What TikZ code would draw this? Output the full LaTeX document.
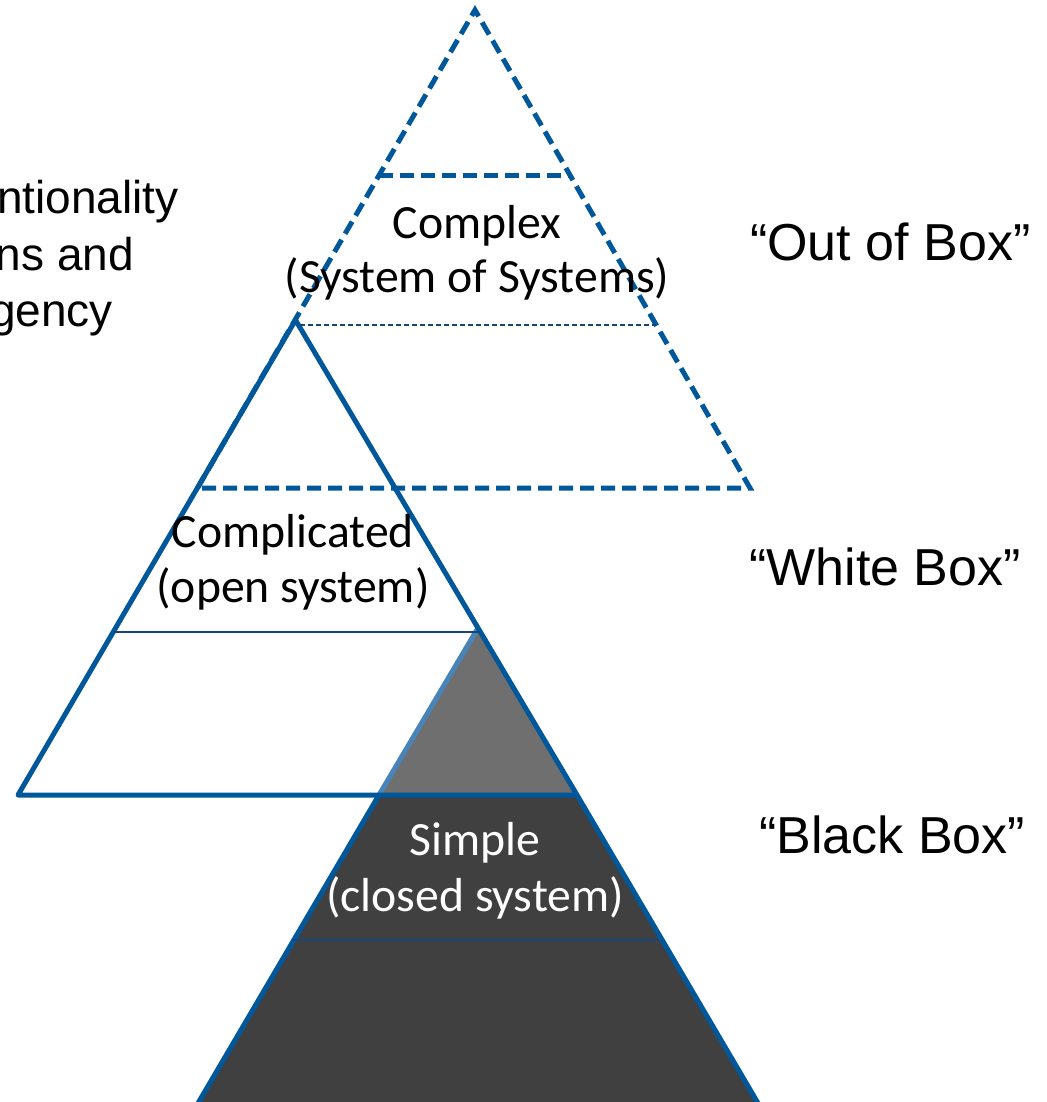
\documentclass[tikz,border=0pt]{standalone}
\usepackage{fontspec}
\setmainfont{Carlito}
\newfontfamily\arialf{Liberation Sans}
\definecolor{pblue}{RGB}{0,88,155}
\definecolor{dblue}{RGB}{20,70,120}
\definecolor{lblue}{RGB}{72,132,184}
\definecolor{gtop}{RGB}{111,111,111}
\definecolor{gbot}{RGB}{64,64,64}
\tikzset{
  thickdash/.style={draw=pblue, line width=5pt, dash pattern=on 14pt off 7pt},
  thindash/.style={draw=dblue, line width=1.8pt, dash pattern=on 5pt off 3pt},
  solidedge/.style={draw=pblue, line width=5pt, line join=round},
  thinline/.style={draw=dblue, line width=2pt},
  layerlbl/.style={inner sep=0pt, anchor=base, font=\fontsize{47.7}{56}\selectfont},
  boxlbl/.style={inner sep=0pt, anchor=base west, font=\arialf\fontsize{52}{60}\selectfont},
  sidelbl/.style={inner sep=0pt, anchor=base east, font=\arialf\fontsize{46}{56}\selectfont}
}
\begin{document}
\begin{tikzpicture}[x=1pt,y=-1pt]
\useasboundingbox (0,0) rectangle (1046,1102);
\begin{scope}
\clip (0,0) rectangle (1046,1102);
% bottom triangle fills
\fill[gtop] (478,628) -- (577,795) -- (379,795) -- cycle;
\fill[gbot] (379,795) -- (577,795) -- (762,1110) -- (194,1110) -- cycle;
\draw[draw=lblue, line width=5pt] (478,628) -- (379,795);
\draw[solidedge] (577,795) -- (762,1110);
\draw[solidedge] (379,795) -- (194,1110);
\draw[thinline] (293,940) -- (659,940);
% middle triangle
\draw[solidedge] (295.5,320) -- (18,795) -- (577,795) -- cycle;
\draw[thinline] (114,632) -- (480,632);
% top dashed triangle
\draw[thickdash] (197.5,488) -- (475,10) -- (750,488) -- (197.5,488);
\draw[thickdash] (379,176) -- (571,176);
\draw[thindash] (300,325) -- (656,325);
\end{scope}
% layer labels
\node[layerlbl] (cx1) at (477,238) {Complex};
\node[layerlbl] (cx2) at (477,292) {(System of Systems)};
\node[layerlbl] (cp1) at (293,547) {Complicated};
\node[layerlbl] (cp2) at (293,602) {(open system)};
\node[layerlbl, text=white] (sp1) at (475,855) {Simple};
\node[layerlbl, text=white] (sp2) at (475,911) {(closed system)};
% right labels
\node[boxlbl] (ob) at (750,260) {“Out of Box”};
\node[boxlbl] (wb) at (749,585) {“White Box”};
\node[boxlbl] (bb) at (759,853) {“Black Box”};
% left text, cut off at the picture's edge as in the reference
\node[sidelbl] (l1) at (179,213) {ntionality};
\node[sidelbl] (l2) at (134,270) {ns and};
\node[sidelbl] (l3) at (113,326) {gency};
\end{tikzpicture}
\end{document}
